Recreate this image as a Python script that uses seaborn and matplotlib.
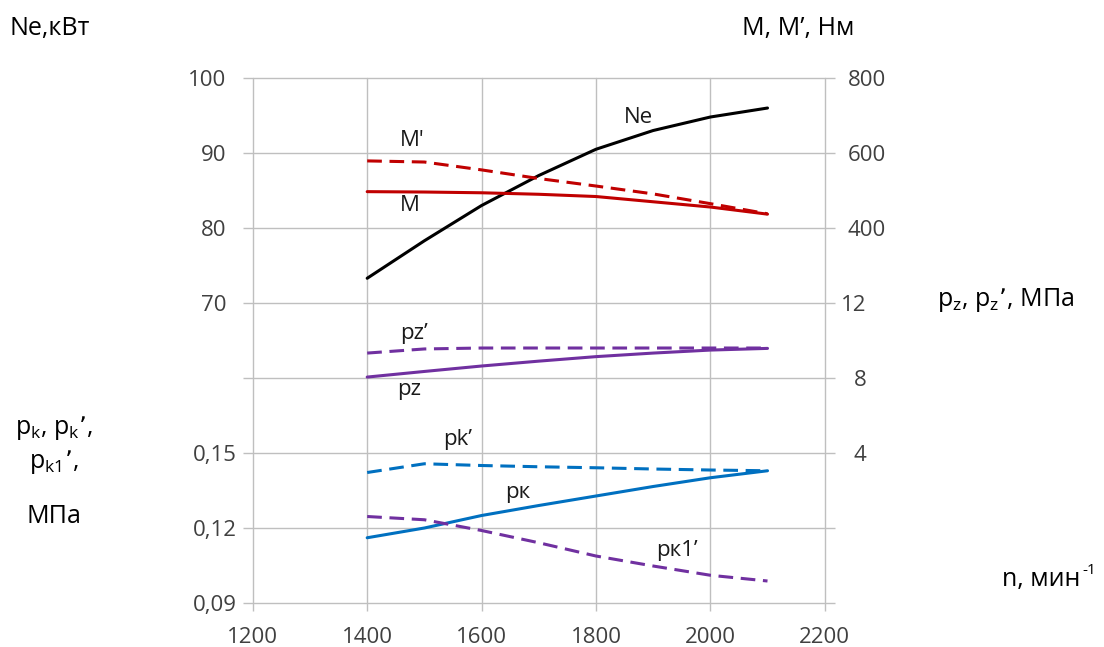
import numpy as np
import pandas as pd
import seaborn as sns
import matplotlib.pyplot as plt

# engine speed, rpm
n = [1400, 1500, 1600, 1700, 1800, 1900, 2000, 2100]

# curves
ne = [73.3, 78.3, 83.0, 87.0, 90.5, 93.0, 94.8, 96.0]          # kW
m = [497, 496, 494, 490, 484, 470, 456, 437]                    # Nm
m_prime = [579, 576, 555, 532, 512, 491, 465, 438]              # Nm
pz = [8.05, 8.35, 8.64, 8.90, 9.14, 9.33, 9.49, 9.58]           # MPa
pz_prime = [9.33, 9.55, 9.60, 9.60, 9.60, 9.60, 9.60, 9.60]     # MPa
pk = [0.1161, 0.1200, 0.1250, 0.1290, 0.1328, 0.1366, 0.1401, 0.1429]
pk_prime = [0.1422, 0.1457, 0.1450, 0.1445, 0.1441, 0.1436, 0.1432, 0.1429]
pk1_prime = [0.1246, 0.1233, 0.1190, 0.1141, 0.1088, 0.1048, 0.1011, 0.0988]

# axis ticks
x_ticks = [1200, 1400, 1600, 1800, 2000, 2200]
ne_ticks = [70, 80, 90, 100]
m_ticks = [400, 600, 800]
pz_ticks = [4, 8, 12]
pk_ticks = [0.09, 0.12, 0.15]

sns.set_style("white")
plt.rcParams['font.family'] = ['Open Sans', 'DejaVu Sans']

GRID = "#BFBFBF"
TICK = "#404040"
BLACK = "#000000"
RED = "#C00000"
PURPLE = "#7030A0"
BLUE = "#0070C0"
DASH = (0, (4.8, 2.5))
FS_TICK = 16

fig = plt.figure(figsize=(11.04, 6.47), dpi=100)
ax = fig.add_axes([0.229, 0.068, 0.518, 0.8114])

# one grid for all the scales: 7 equal bands
ax.set_xlim(x_ticks[0], x_ticks[-1])
ax.set_ylim(0, 7)
ax.set_xticks(x_ticks)
ax.set_yticks(range(8))
ax.grid(True, color=GRID, lw=1)
for s in ax.spines.values():
    s.set_visible(False)

ax_ne = ax.twinx()
ax_pk = ax.twinx()
ax_m = ax.twinx()
ax_pz = ax.twinx()

ax.tick_params(axis='y', left=True, right=True, labelleft=False, labelright=False,
               length=7, color=GRID, width=1)
ax.tick_params(axis='x', bottom=True, length=6, color=GRID, width=1,
               labelsize=FS_TICK, labelcolor=TICK, pad=11)
for gl in ax.get_xgridlines() + ax.get_ygridlines():
    gl.set_clip_on(False)

# Ne: 70..100 occupies the upper 3 bands
sns.lineplot(x=n, y=ne, ax=ax_ne, color=BLACK, lw=2.2)
ax_ne.set_ylim(30, 100)
ax_ne.set_yticks(ne_ticks)

# M, M'
sns.lineplot(x=n, y=m, ax=ax_m, color=RED, lw=2.2)
sns.lineplot(x=n, y=m_prime, ax=ax_m, color=RED, lw=2.2, linestyle=DASH)
ax_m.set_ylim(-600, 800)
ax_m.set_yticks(m_ticks)

# pz, pz'
sns.lineplot(x=n, y=pz, ax=ax_pz, color=PURPLE, lw=2.2)
sns.lineplot(x=n, y=pz_prime, ax=ax_pz, color=PURPLE, lw=2.2, linestyle=DASH)
ax_pz.set_ylim(-4, 24)
ax_pz.set_yticks(pz_ticks)

# pk, pk', pk1'
sns.lineplot(x=n, y=pk_prime, ax=ax_pk, color=BLUE, lw=2.2, linestyle=DASH)
sns.lineplot(x=n, y=pk, ax=ax_pk, color=BLUE, lw=2.2)
sns.lineplot(x=n, y=pk1_prime, ax=ax_pk, color=PURPLE, lw=2.2, linestyle=DASH)
ax_pk.set_ylim(0.09, 0.30)
ax_pk.set_yticks(pk_ticks)
ax_pk.set_yticklabels([f"{v:.2f}".replace('.', ',') for v in pk_ticks])

for a, side, pad in [(ax_ne, 'left', 19), (ax_pk, 'left', 11.5),
                     (ax_m, 'right', 16.5), (ax_pz, 'right', 30)]:
    for s in a.spines.values():
        s.set_visible(False)
    a.set_xlim(x_ticks[0], x_ticks[-1])
    a.set_ylabel("")
    a.tick_params(axis='y', left=False, right=False,
                  labelleft=(side == 'left'), labelright=(side == 'right'),
                  length=0, pad=pad, labelsize=FS_TICK, labelcolor=TICK)

# pz labels are right aligned in the original
for t in ax_pz.get_yticklabels():
    t.set_horizontalalignment('right')

# curve labels
lab = dict(ha='center', va='center', fontsize=16, color='#1a1a1a')
ax_ne.text(1875, 94.7, "Ne", **lab)
ax_m.text(1478, 634, "M'", **lab)
ax_m.text(1475, 460, "M", **lab)
ax_pz.text(1481, 10.35, "pz’", **lab)
ax_pz.text(1473, 7.38, "pz", **lab)
ax_pk.text(1558, 0.1555, "pk’", **lab)
ax_pk.text(1664, 0.1341, "pк", **lab)
ax_pk.text(1941, 0.1112, "pк1’", **lab)

# axis titles
tt = dict(fontsize=18, color=BLACK, va='center')
fig.text(0.009, 0.956, "Ne,кВт", ha='left', **tt)
fig.text(0.723, 0.956, "M, M’, Нм", ha='center', **tt)
fig.text(0.911, 0.536, r"p$\mathregular{_z}$, p$\mathregular{_z}$’, МПа", ha='center', **tt)
fig.text(0.049, 0.338, r"p$\mathregular{_k}$, p$\mathregular{_k}$’,", ha='center', **tt)
fig.text(0.049, 0.286, r"p$\mathregular{_{k1}}$’,", ha='center', **tt)
fig.text(0.049, 0.201, "МПа", ha='center', **tt)
n_lab = fig.text(0.908, 0.104, "n, мин", ha='left', **tt)
ax.annotate("-1", xy=(1, 0.55), xycoords=n_lab, xytext=(1, 0), textcoords='offset points',
            fontsize=11, color=BLACK, ha='left', va='bottom', annotation_clip=False)

fig.savefig("out.png", dpi=100)
